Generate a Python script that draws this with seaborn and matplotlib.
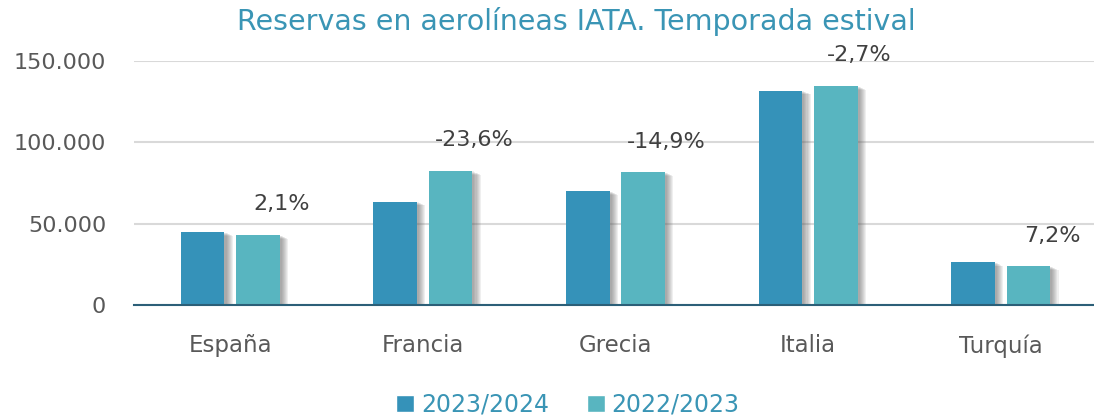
import matplotlib
matplotlib.use("Agg")
import matplotlib.pyplot as plt
import matplotlib.patheffects as pe
import matplotlib.ticker as mticker
import seaborn as sns
import pandas as pd

countries = ["España", "Francia", "Grecia", "Italia", "Turquía"]
seasons = ["2023/2024", "2022/2023"]
values_2023_2024 = [44800, 63500, 69900, 131700, 26200]
values_2022_2023 = [43000, 82400, 81600, 134600, 23800]
pct_labels = ["2,1%", "-23,6%", "-14,9%", "-2,7%", "7,2%"]
yticks = [0, 50000, 100000, 150000]

df = pd.DataFrame({
    "country": countries * 2,
    "season": [seasons[0]] * len(countries) + [seasons[1]] * len(countries),
    "value": values_2023_2024 + values_2022_2023,
})

sns.set_theme(style="white")
plt.rcParams["font.family"] = ["DejaVu Sans"]

dark = "#3592B9"
light = "#58B5C0"
title_col = "#3A95B5"
txt = "#595959"

fig = plt.figure(figsize=(10.94, 4.16), dpi=100)
ax = fig.add_axes([134 / 1094, (416 - 305) / 416, (1097 - 134) / 1094, (305 - 61) / 416])

sns.barplot(data=df, x="country", y="value", hue="season", order=countries,
            hue_order=seasons, palette=[dark, light], width=0.574, gap=0.21,
            saturation=1, ax=ax, legend=True, zorder=3)

handles, labels = ax.get_legend_handles_labels()
ax.get_legend().remove()

# soft drop shadow (several faint offset copies)
shadow = []
for dx, dy in [(8, -3.5), (7, -3), (6, -2.5), (5, -2), (4, -1.5), (3, -1), (2, -0.5)]:
    shadow.append(pe.SimplePatchShadow(offset=(dx * 0.75, dy * 0.75), shadow_rgbFace="#555555", alpha=0.09))
shadow.append(pe.Normal())
for bars in ax.containers:
    for p in bars:
        p.set_path_effects(shadow)
        p.set_linewidth(0)

ax.set_ylim(0, 150000)
ax.set_yticks(yticks)
ax.yaxis.set_major_formatter(mticker.FuncFormatter(lambda v, _: f"{int(v):,}".replace(",", ".")))
ax.grid(axis="y", color="#D9D9D9", lw=1.5, zorder=0)
ax.set_axisbelow(True)
for s in ["top", "right", "left"]:
    ax.spines[s].set_visible(False)
ax.spines["bottom"].set_color("#2C5F78")
ax.spines["bottom"].set_linewidth(1.5)
ax.spines["bottom"].set_zorder(4)
ax.tick_params(axis="y", length=0, pad=20, labelsize=16, labelcolor=txt)
ax.tick_params(axis="x", length=0, pad=21, labelsize=16.5, labelcolor=txt)
ax.set_xlabel("")
ax.set_ylabel("")

# percentage labels above the 2022/2023 bars
light_bars = ax.containers[1]
for bar, lab in zip(light_bars, pct_labels):
    cx = bar.get_x() + bar.get_width() / 2
    top = bar.get_height()
    ax.annotate(lab, (cx, top), xytext=(17, 22), textcoords="offset points",
                ha="center", va="center", fontsize=16, color="#404040",
                annotation_clip=False)

leg = fig.legend(handles, labels, loc="center", bbox_to_anchor=(568 / 1094, 1 - 405 / 416),
                 ncol=2, frameon=False, fontsize=17, handlelength=0.75, handleheight=0.75,
                 handletextpad=0.3, columnspacing=1.6)
for h in leg.legend_handles:
    h.set_path_effects([])
for t in leg.get_texts():
    t.set_color(title_col)

fig.text(576 / 1094, 1 - 22 / 416, "Reservas en aerolíneas IATA. Temporada estival",
         ha="center", va="center", fontsize=20.5, color=title_col)

fig.savefig("out.png", dpi=100)
